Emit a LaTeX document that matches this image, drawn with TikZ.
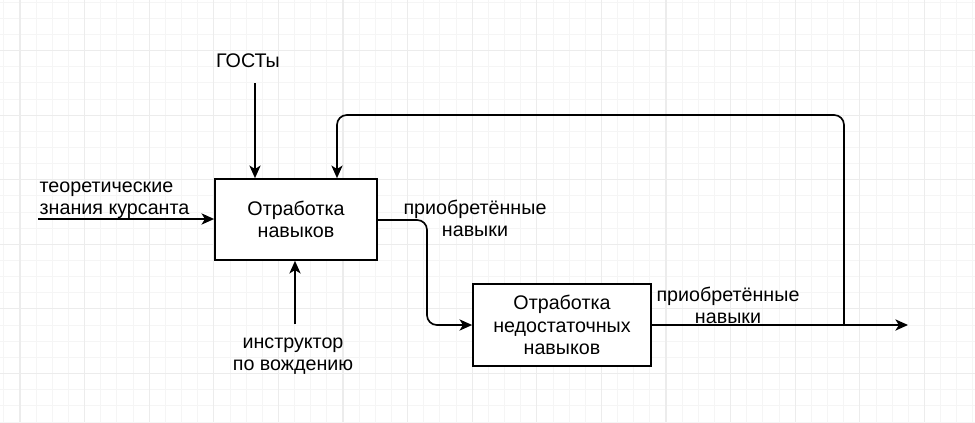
\documentclass[tikz,border=0pt]{standalone}
\usepackage{fontspec}
\setmainfont{Liberation Sans}
\usepackage{tikz}
\usetikzlibrary{arrows.meta, calc, positioning}

\begin{document}
\begin{tikzpicture}[
    x=0.025cm, y=-0.025cm,
    font=\fontsize{14}{15.8}\selectfont,
    box/.style={rectangle, draw, line width=1.2pt, align=center, inner sep=2pt},
    lbl/.style={align=center, inner sep=1pt},
    arrow/.style={-{Stealth[length=9pt, width=8pt, inset=2.5pt]}, line width=1.2pt},
    minorgrid/.style={draw=gray!8, line width=0.6pt},
    majorgrid/.style={draw=gray!15, line width=0.8pt}
]
    \useasboundingbox (0,0) rectangle (975,422);

    % сетка
    \foreach \i in {-1,...,59} {
        \draw[minorgrid] ({20+16.15*\i},0) -- ({20+16.15*\i},422);
    }
    \foreach \j in {-3,...,23} {
        \draw[minorgrid] (0,{50.5+16.15*\j}) -- (975,{50.5+16.15*\j});
    }
    \foreach \i in {0,...,14} {
        \draw[majorgrid] ({20+64.6*\i},0) -- ({20+64.6*\i},422);
    }
    \foreach \j in {0,...,5} {
        \draw[majorgrid] (0,{50.5+64.6*\j}) -- (975,{50.5+64.6*\j});
    }

    % блоки
    \node[box, fill=white, minimum width=4.05cm, minimum height=2.025cm] (work) at (296,219.5) {Отработка\\навыков};
    \node[box, fill=white, minimum width=4.45cm, minimum height=2.05cm] (rework) at (562,325) {Отработка\\недостаточных\\навыков};

    % входы, управление, механизмы
    \node[lbl, align=left, anchor=west] (theory) at (38,200) {теоретические\\знания курсанта};
    \node[lbl] (gost) at (248,61) {ГОСТы};
    \node[lbl] (instr) at (293,356) {инструктор\\по вождению};

    % подписи выходов
    \node[lbl] (skills1) at (475,218) {приобретённые\\навыки};
    \node[lbl] (skills2) at (728,305) {приобретённые\\навыки};

    % точки
    \coordinate (in) at (38,219);
    \coordinate (gostin) at (255,83);
    \coordinate (instrin) at (295,324);
    \coordinate (turn) at (427,220);
    \coordinate (fb) at (844,325);
    \coordinate (top) at (337,115);
    \coordinate (out) at (908,325);

    % стрелки
    \draw[arrow] (in) -- (in -| work.west);
    \draw[arrow] (gostin) -- (gostin |- work.north);
    \draw[arrow] (instrin) -- (instrin |- work.south);
    \draw[arrow, rounded corners=7pt] (work.east |- turn) -- (turn) |- (rework.west);
    \draw[arrow] (rework.east) -- (out);
    \draw[arrow, rounded corners=7pt] (fb) |- (top) -- (top |- work.north);
\end{tikzpicture}
\end{document}
